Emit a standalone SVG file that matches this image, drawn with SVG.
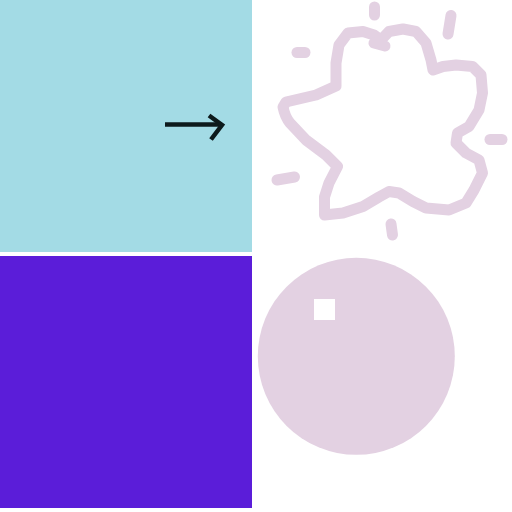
<svg xmlns="http://www.w3.org/2000/svg" width="512" height="512" viewBox="0 0 512 512">
<style>
.splat{fill:none;stroke:#e3d1e2;stroke-width:11;stroke-linecap:round;stroke-linejoin:round}
.arrow{fill:none;stroke:#0d1a1c;stroke-width:4.5;stroke-linecap:butt;stroke-linejoin:miter}
</style>
<rect width="512" height="512" fill="#ffffff"/>
<g id="tile-blue">
<rect x="0" y="0" width="252" height="252" fill="#a3dbe5"/>
<g id="arrow">
<path class="arrow" d="M165 124.5 H222"/>
<path class="arrow" d="M209 115.5 L222 125 L211 139.5"/>
</g>
</g>
<g id="tile-purple">
<rect x="0" y="256" width="252" height="252" fill="#5b1dd9"/>
</g>
<g id="splat">
<path class="splat" d="M336 86 L316 95 L286 102 L283 107 Q285 117 290 123 L306 140 L326 155 L337.5 166.5 L329 183 L324.5 197 L324.5 215 L343 213 L363 206.5 L379 197 L389 191.5 L399 193 L413 201.5 L426 208 L449 210 L466 203 L474 190 L482.5 173 L479 160 L466 153 L456 143 L457.5 133 L469 126.5 L479 110 L482.5 93 L481 75 L472.5 66.5 L456 65 L443 66.5 L433 70 L431 60 L426 43 L416 31.5 L403 29 L389 31.5 L381 40 L374 35 L363 31.5 L348 33 L339 45 L336 63 Z"/>
<path class="splat" d="M374 43 L385 46"/>
<path class="splat" d="M374.5 7 V15"/>
<path class="splat" d="M451 15.5 L448 34"/>
<path class="splat" d="M297 52.5 H305"/>
<path class="splat" d="M490 139.5 H502"/>
<path class="splat" d="M277 180 L294.5 177"/>
<path class="splat" d="M391 224 L392.5 235"/>
</g>
<g id="ball">
<circle cx="356.3" cy="356.3" r="98.5" fill="#e3d1e2"/>
<rect x="314" y="299" width="21" height="21" fill="#ffffff"/>
</g>
</svg>
